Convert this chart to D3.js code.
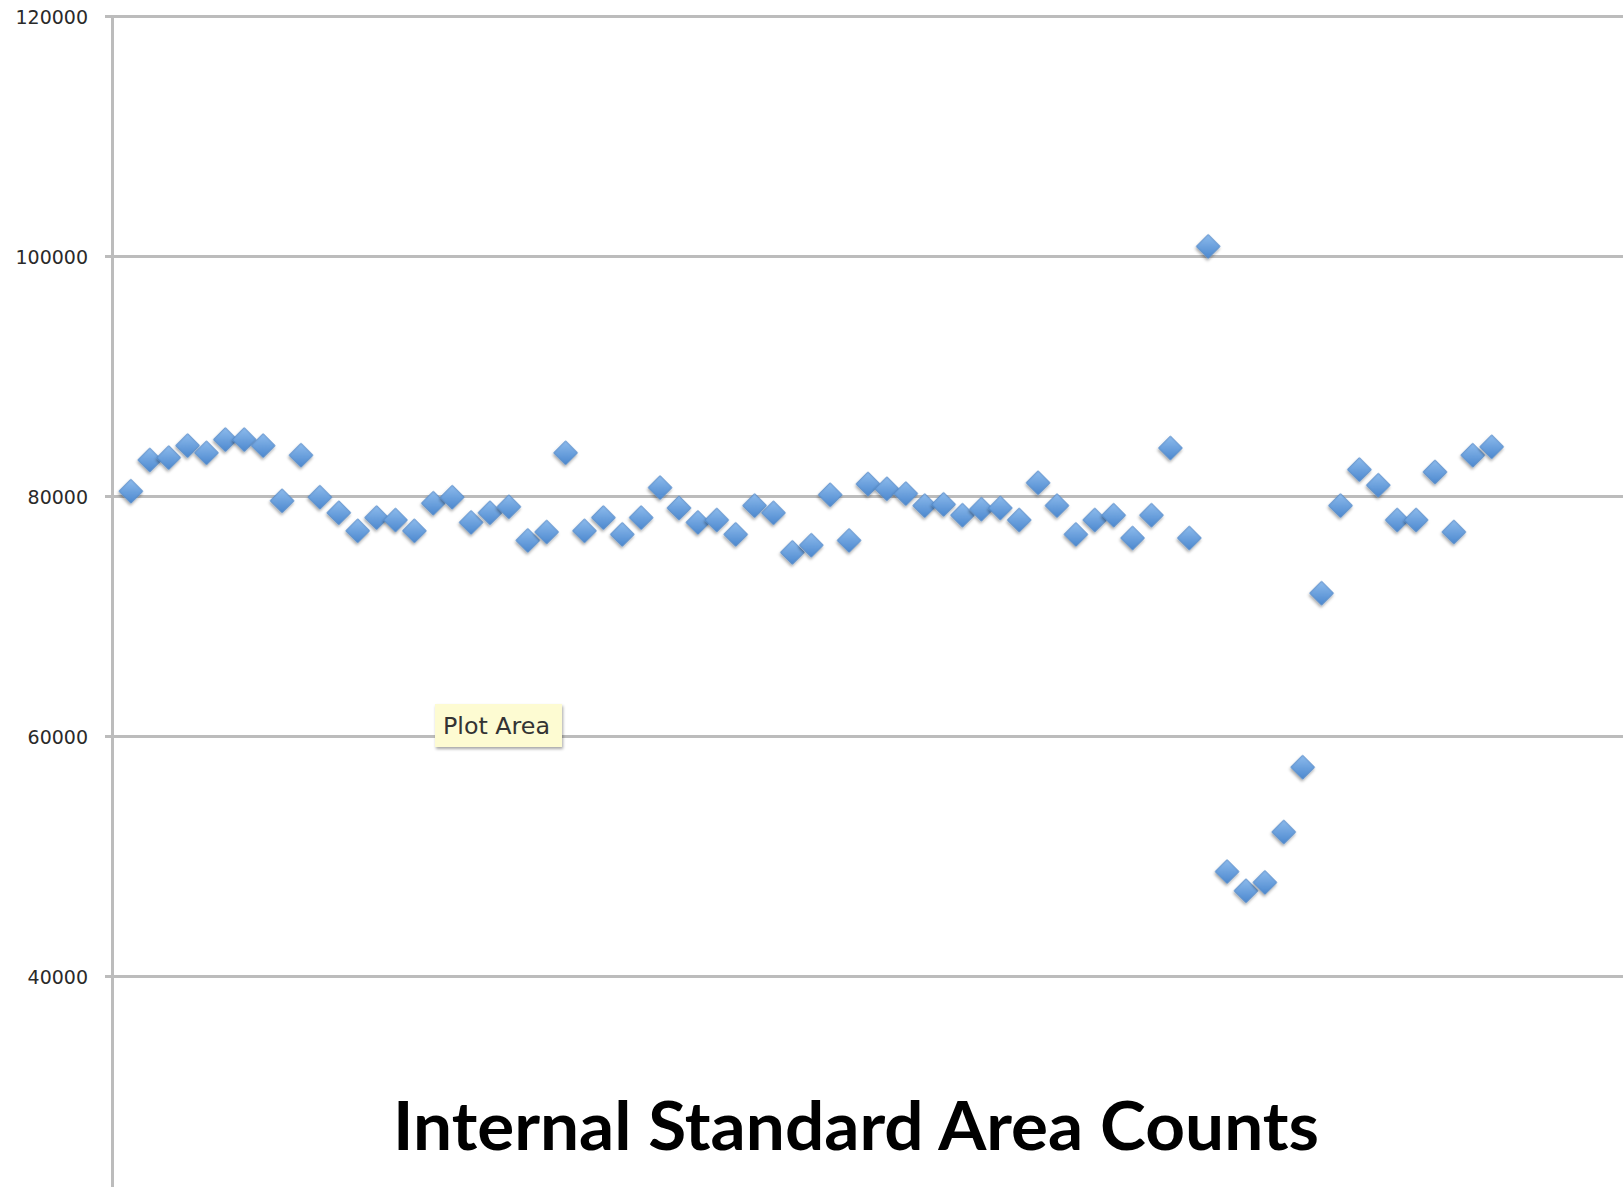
<!DOCTYPE html>
<html>
<head>
<meta charset="utf-8">
<script src="https://cdn.jsdelivr.net/npm/d3@7/dist/d3.min.js"></script>
<style>
  body { margin: 0; background: #fff; }
  svg { display: block; }
</style>
</head>
<body>
<div id="chart"></div>
<script>
// sample number (x) and internal standard area counts (y)
const samples = [
   1,  2,  3,  4,  5,  6,  7,  8,  9, 10,
  11, 12, 13, 14, 15, 16, 17, 18, 19, 20,
  21, 22, 23, 24, 25, 26, 27, 28, 29, 30,
  31, 32, 33, 34, 35, 36, 37, 38, 39, 40,
  41, 42, 43, 44, 45, 46, 47, 48, 49, 50,
  51, 52, 53, 54, 55, 56, 57, 58, 59, 60,
  61, 62, 63, 64, 65, 66, 67, 68, 69, 70,
  71, 72, 73
];
const areaCounts = [
  80400, 83000, 83200, 84200, 83600, 84700, 84700, 84200, 79600, 83400,
  79900, 78600, 77100, 78200, 78000, 77100, 79400, 79900, 77800, 78600,
  79100, 76300, 77000, 83600, 77100, 78200, 76800, 78200, 80700, 79000,
  77800, 78000, 76800, 79200, 78600, 75300, 75900, 80100, 76300, 81000,
  80600, 80200, 79200, 79300, 78400, 78900, 79000, 78000, 81100, 79200,
  76800, 78000, 78400, 76500, 78400, 84000, 76500, 100800, 48700, 47100,
  47800, 52000, 57400, 71900, 79200, 82200, 80900, 78000, 78000, 82000,
  77000, 83400, 84100
];
const yTicks = [40000, 60000, 80000, 100000, 120000];
const title = "Internal Standard Area Counts";

const width = 1623, height = 1187;
const left = 112;

const svg = d3.select("#chart").append("svg")
  .attr("width", width)
  .attr("height", height);

const defs = svg.append("defs");
const grad = defs.append("linearGradient").attr("id", "marker-fill")
  .attr("x1", 0).attr("y1", 0).attr("x2", 1).attr("y2", 1);
grad.append("stop").attr("offset", "0%").attr("stop-color", "#8dbbec");
grad.append("stop").attr("offset", "100%").attr("stop-color", "#4c88cf");

const shadow = defs.append("filter").attr("id", "shadow")
  .attr("x", "-50%").attr("y", "-50%").attr("width", "200%").attr("height", "200%");
shadow.append("feDropShadow")
  .attr("dx", 1).attr("dy", 2).attr("stdDeviation", 1.6)
  .attr("flood-color", "#000").attr("flood-opacity", 0.35);

// the chart is cropped: the x axis (0..80) runs off the right edge
// and the y axis runs below the bottom of the picture
const x = d3.scaleLinear().domain([0, 80]).range([left, 1624]);
const y = d3.scaleLinear().domain([20000, 120000]).range([1216, 16]);

// gridlines
svg.append("g")
  .attr("class", "grid")
  .attr("transform", `translate(${left},0)`)
  .call(d3.axisRight(y).tickValues(yTicks).tickSize(width - left).tickFormat(""))
  .call(g => g.select(".domain").remove())
  .call(g => g.selectAll("line").attr("stroke", "#bcbcbc").attr("stroke-width", 3));

// y axis with labels
svg.append("g")
  .attr("class", "y-axis")
  .attr("transform", `translate(${left},0)`)
  .call(d3.axisLeft(y).tickValues(yTicks).tickFormat(d3.format("d"))
    .tickSizeInner(7).tickSizeOuter(0).tickPadding(17))
  .call(g => g.select(".domain").attr("stroke", "#bcbcbc").attr("stroke-width", 3))
  .call(g => g.selectAll(".tick line").attr("stroke", "#bcbcbc").attr("stroke-width", 3))
  .call(g => g.selectAll("text")
    .attr("fill", "#2a2a2a")
    .attr("font-family", "DejaVu Sans, sans-serif")
    .attr("font-size", 19)
    .attr("dy", "0.4em"));

// tooltip left over from the screenshot
const tip = svg.append("g").attr("class", "tooltip");
tip.append("rect")
  .attr("x", 435).attr("y", 704).attr("width", 127).attr("height", 43)
  .attr("fill", "#fdfbd2")
  .attr("filter", "url(#shadow)");
tip.append("text")
  .attr("x", 443).attr("y", 734)
  .attr("font-family", "DejaVu Sans, sans-serif")
  .attr("font-size", 23)
  .attr("textLength", 107)
  .attr("lengthAdjust", "spacingAndGlyphs")
  .attr("fill", "#333")
  .text("Plot Area");

// diamond markers
const points = samples.map((s, i) => ({ s: s, v: areaCounts[i] }));
const diamond = d3.symbol().type(d3.symbolSquare).size(280);

svg.append("g")
  .attr("class", "points")
  .selectAll("path")
  .data(points)
  .enter().append("path")
  .attr("d", diamond)
  .attr("transform", d => `translate(${x(d.s)},${y(d.v)}) rotate(45)`)
  .attr("fill", "url(#marker-fill)")
  .attr("stroke", "#4f86c6")
  .attr("stroke-width", 0.8)
  .attr("filter", "url(#shadow)");

// title
svg.append("text")
  .attr("x", 856)
  .attr("y", 1150)
  .attr("text-anchor", "middle")
  .attr("font-family", "Lato, 'DejaVu Sans', sans-serif")
  .attr("font-weight", 700)
  .attr("font-size", 66)
  .attr("textLength", 926)
  .attr("lengthAdjust", "spacingAndGlyphs")
  .attr("fill", "#000")
  .text(title);
</script>
</body>
</html>
